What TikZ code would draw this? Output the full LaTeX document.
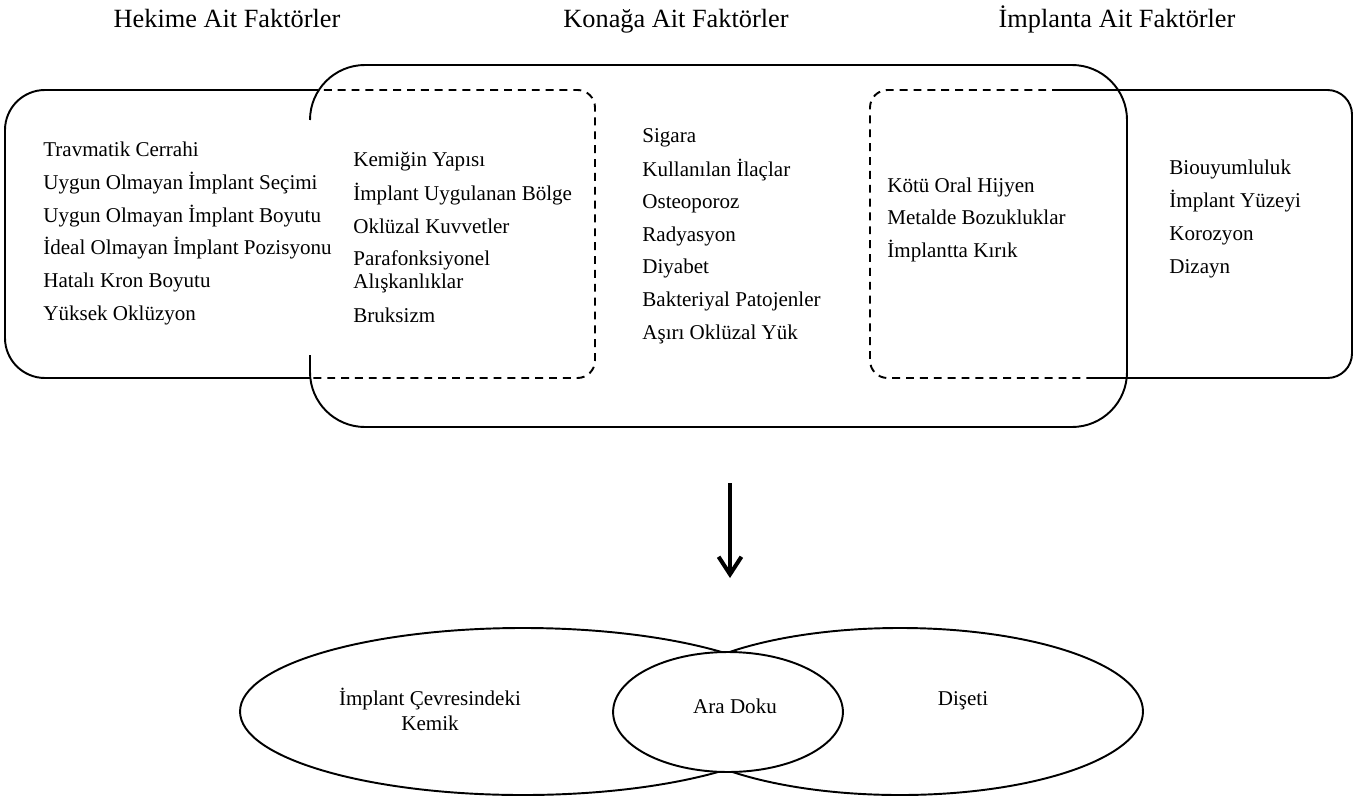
\documentclass[tikz,border=0pt]{standalone}
\usepackage{fontspec}
\setmainfont{Liberation Serif}
\usetikzlibrary{shapes.geometric,arrows.meta}
\begin{document}
\begin{tikzpicture}[x=0.57pt,y=-0.57pt,
  txt/.style={anchor=base west,inner sep=0pt,font=\fontsize{12}{14}\selectfont},
  ctr/.style={anchor=base,inner sep=0pt,font=\fontsize{12}{14}\selectfont},
  ttl/.style={anchor=base,inner sep=0pt,font=\fontsize{15}{17}\selectfont},
  ln/.style={line width=1.1pt},
  dsh/.style={line width=1.1pt,dash pattern=on 4.5pt off 3.4pt},
  oval/.style={ellipse,draw,line width=1.1pt,inner sep=0pt}]
\useasboundingbox (0,0) rectangle (1355,800);
% titles
\node[ttl] (t1) at (227,28) {Hekime Ait Faktörler};
\node[ttl] (t2) at (676,28) {Konağa Ait Faktörler};
\node[ttl] (t3) at (1117,28) {İmplanta Ait Faktörler};
% middle box (solid, hidden inside left box)
\draw[ln,rounded corners=31.35pt] (310,120) -- (310,65) -- (1127,65) -- (1127,427) -- (310,427) -- (310,355);
% left box
\draw[ln,rounded corners=22.8pt] (310,90) -- (5,90) -- (5,378) -- (310,378);
\draw[dsh,rounded corners=10pt] (310,90) -- (595,90) -- (595,378) -- (310,378);
% right box
\draw[dsh,rounded corners=10pt] (1060,90) -- (870,90) -- (870,378) -- (1090,378);
\draw[ln,rounded corners=14pt] (1060,90) -- (1352,90) -- (1352,378) -- (1090,378);
% left box texts
\node[txt] (h1) at (43,156.5) {Travmatik Cerrahi};
\node[txt] (h2) at (43,189.3) {Uygun Olmayan İmplant Seçimi};
\node[txt] (h3) at (43,222.1) {Uygun Olmayan İmplant Boyutu};
\node[txt] (h4) at (43,254.9) {İdeal Olmayan İmplant Pozisyonu};
\node[txt] (h5) at (43,287.7) {Hatalı Kron Boyutu};
\node[txt] (h6) at (43,320.5) {Yüksek Oklüzyon};
% left overlap texts
\node[txt] (k1) at (353,167) {Kemiğin Yapısı};
\node[txt] (k2) at (353,200) {İmplant Uygulanan Bölge};
\node[txt] (k3) at (353,233) {Oklüzal Kuvvetler};
\node[txt] (k4) at (353,265) {Parafonksiyonel};
\node[txt] (k5) at (353,288) {Alışkanlıklar};
\node[txt] (k6) at (353,322) {Bruksizm};
% middle texts
\node[txt] (m1) at (642,143) {Sigara};
\node[txt] (m2) at (642,176) {Kullanılan İlaçlar};
\node[txt] (m3) at (642,208) {Osteoporoz};
\node[txt] (m4) at (642,241) {Radyasyon};
\node[txt] (m5) at (642,273.5) {Diyabet};
\node[txt] (m6) at (642,306) {Bakteriyal Patojenler};
\node[txt] (m7) at (642,339) {Aşırı Oklüzal Yük};
% right overlap texts
\node[txt] (r1) at (887,192) {Kötü Oral Hijyen};
\node[txt] (r2) at (887,224.5) {Metalde Bozukluklar};
\node[txt] (r3) at (887,257) {İmplantta Kırık};
% right box texts
\node[txt] (i1) at (1169,175) {Biouyumluluk};
\node[txt] (i2) at (1169,207.5) {İmplant Yüzeyi};
\node[txt] (i3) at (1169,240) {Korozyon};
\node[txt] (i4) at (1169,273) {Dizayn};
% arrow
\coordinate (a1) at (730,483);
\coordinate (a2) at (730,578);
\draw[line width=2.3pt,-{Straight Barb[length=10pt,width=13pt]}] (a1) -- (a2);
% ellipses
\node[oval,minimum width=322.6pt,minimum height=95.2pt] (bone) at (523,711.5) {};
\node[oval,minimum width=277pt,minimum height=95.2pt] (gum) at (900,711.5) {};
\node[oval,fill=white,minimum width=131pt,minimum height=68.4pt] (ara) at (728,712) {};
\node[ctr] (boneT) at (430,705) {İmplant Çevresindeki};
\node[ctr] (boneT2) at (430,730) {Kemik};
\node[ctr] (araT) at (735,713) {Ara Doku};
\node[ctr] (gumT) at (963,705) {Dişeti};
\end{tikzpicture}
\end{document}
